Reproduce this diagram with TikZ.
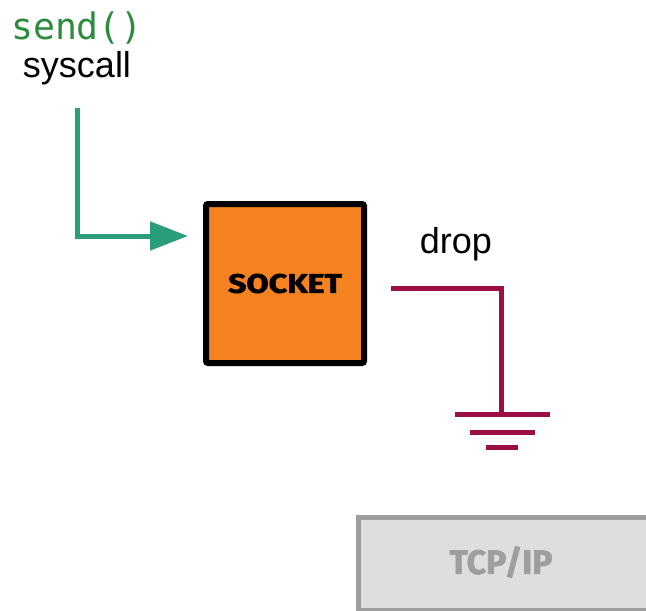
\documentclass[tikz,border=0pt]{standalone}
\usepackage{fontspec}
\setmainfont{Liberation Sans}
\newfontfamily\codefont{DejaVu Sans Mono}
\newfontfamily\blockfont{Fira Sans}[BoldFeatures={FakeBold=1.8}]
\usetikzlibrary{arrows.meta}
\definecolor{callgreen}{HTML}{2E8B3E}
\definecolor{pathgreen}{HTML}{2A9D7A}
\definecolor{sockorange}{HTML}{F58220}
\definecolor{dropred}{HTML}{9C0F45}
\definecolor{stackgray}{HTML}{9E9E9E}
\definecolor{stackfill}{HTML}{DEDEDE}
\begin{document}
\begin{tikzpicture}[x=1pt,y=-1pt,
  label text/.style={font=\fontsize{36}{40}\selectfont, inner sep=0pt},
  sockbox/.style={draw=black, line width=6pt, fill=sockorange, rounded corners=2pt,
    minimum width=158pt, minimum height=159pt, inner sep=0pt},
  stackbox/.style={draw=stackgray, line width=5pt, fill=stackfill,
    minimum width=300pt, minimum height=93pt, inner sep=0pt},
  sendpath/.style={draw=pathgreen, line width=5pt},
  droppath/.style={draw=dropred, line width=5pt}]
\useasboundingbox (0,0) rectangle (646,611);
\clip (0,0) rectangle (646,611);

% system call labels
\node[inner sep=0pt, text=callgreen, font=\codefont\fontsize{36.5}{40}\selectfont] (call) at (77,28) {send()};
\node[label text] (sys) at (77,68) {syscall};

% socket
\node[sockbox] (socket) at (285,283.5) {\resizebox{114pt}{19pt}{\blockfont\bfseries SOCKET}};

% drop label
\node[label text] (drop) at (456,244) {drop};

% network stack box
\node[stackbox, anchor=north west] (stack) at (355.5,514.5) {};
\node[inner sep=0pt] (stacklbl) at (501,562) {\color{stackgray}\resizebox{103pt}{!}{\blockfont\bfseries TCP/IP}};

% send path into the socket
\coordinate (sendstart) at (77,108);
\draw[sendpath, -{Triangle[length=38pt,width=28pt]}] (sendstart) |- ([xshift=-15pt,yshift=47.5pt]socket.west);

% drop path to ground
\coordinate (dropstart) at (391,288);
\coordinate (gnd) at (501,414);
\draw[droppath] (dropstart) -| (gnd);
\draw[droppath] ([xshift=-46pt]gnd) -- ([xshift=49pt]gnd);
\draw[droppath] ([xshift=-31pt,yshift=-18pt]gnd) -- ([xshift=34pt,yshift=-18pt]gnd);
\draw[droppath] ([xshift=-15pt,yshift=-33pt]gnd) -- ([xshift=17pt,yshift=-33pt]gnd);
\end{tikzpicture}
\end{document}
